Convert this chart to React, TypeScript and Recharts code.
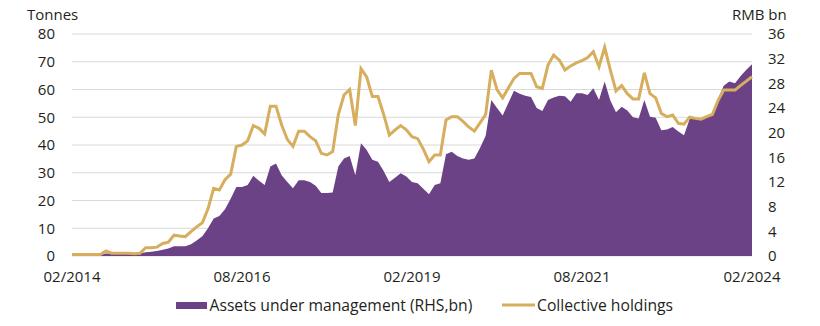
import { ComposedChart, Area, Line, XAxis, YAxis, CartesianGrid } from "recharts";

// monthly, 02/2014 .. 02/2024
const startYear = 2014;
const startMonth = 2;

// collective holdings, tonnes (LHS)
const holdings = [
  0.5, 0.5, 0.5, 0.5, 0.5, 0.5, 1.8, 1.0, 1.0, 1.0,
  1.0, 0.8, 1.0, 3.0, 3.0, 3.2, 4.5, 5.0, 7.5, 7.2,
  7.0, 8.8, 10.5, 12, 17, 24.4, 23.8, 27.5, 29.5, 39.5,
  40, 41.5, 47, 46, 44, 54, 54, 47.2, 42, 39.5,
  45, 45, 43, 41.5, 37, 36.4, 37.6, 51, 58, 60,
  47, 67.5, 64.5, 57.5, 57.5, 51, 43.6, 45.4, 47, 45.5,
  43, 42.3, 38.5, 34, 36.4, 36.4, 49, 50.2, 50.2, 48.5,
  46.5, 45, 48, 51, 67, 60, 57, 60.5, 64, 65.8,
  65.8, 65.8, 61, 60.4, 68.8, 72.4, 70.6, 67, 68.5, 69.6,
  70.4, 71.5, 73.6, 68.2, 75.2, 67, 59.5, 61.4, 58.5, 56.6,
  56.6, 66, 58.5, 57, 51.4, 50.2, 50.8, 47.8, 47.5, 50,
  49.6, 49.3, 50.2, 51, 56, 59.8, 59.8, 59.8, 61.5, 63,
  64.6,
];

// assets under management, RMB bn (RHS)
const aum = [
  0.2, 0.2, 0.2, 0.2, 0.2, 0.2, 0.4, 0.4, 0.4, 0.4,
  0.4, 0.4, 0.4, 0.6, 0.7, 0.8, 1.0, 1.2, 1.6, 1.6,
  1.6, 1.9, 2.5, 3.2, 4.5, 6.1, 6.5, 7.6, 9.3, 11.2,
  11.2, 11.5, 13, 12.2, 11.5, 14.5, 15, 13.1, 12, 11,
  12.3, 12.3, 12, 11.4, 10.2, 10.2, 10.3, 14.5, 15.8, 16.2,
  13.1, 18.3, 17.2, 15.6, 15.3, 13.8, 12, 12.7, 13.4, 12.9,
  12, 11.8, 10.9, 10, 11.5, 11.8, 16.5, 16.9, 16.2, 15.8,
  15.6, 15.8, 17.5, 19.5, 25.3, 24, 22.8, 24.8, 26.8, 26.3,
  26, 25.8, 24, 23.5, 25.3, 25.7, 26, 25.9, 25, 26.4,
  26.4, 26.1, 27.2, 25.3, 28.3, 25.2, 23.3, 24.2, 23.6, 22.5,
  22.3, 25.3, 22.6, 22.4, 20.4, 20.5, 20.9, 20.2, 19.6, 22.2,
  22.3, 22.2, 22.5, 23, 25.5, 27.6, 28.3, 28, 29.2, 30.2,
  31.1,
];

const leftTicks = [0, 10, 20, 30, 40, 50, 60, 70, 80];
const rightTicks = [0, 4, 8, 12, 16, 20, 24, 28, 32, 36];

const months = holdings.map((_, i) => {
  const t = startMonth - 1 + i;
  const m = (t % 12) + 1;
  const y = startYear + Math.floor(t / 12);
  return `${String(m).padStart(2, "0")}/${y}`;
});

const data = months.map((month, i) => ({
  month,
  holdings: holdings[i],
  aum: aum[i],
}));

const PURPLE = "#6c4287";
const GOLD = "#d6ae5e";
const TEXT = "#231f20";
const FONT = "'Open Sans', 'Noto Sans', sans-serif";

const tickStyle = { fill: TEXT, fontSize: 15, fontFamily: FONT };

export default function App() {
  return (
    <div style={{ position: "absolute", left: 0, top: 0, width: 820, height: 326 }}>
      <ComposedChart
        width={820}
        height={326}
        data={data}
        margin={{ top: 34, right: 0, bottom: 40, left: 0 }}
      >
        <CartesianGrid yAxisId="left" vertical={false} stroke="#d9d9d9" />
        <XAxis
          dataKey="month"
          scale="point"
          interval={29}
          height={30}
          tickLine={false}
          axisLine={false}
          tickMargin={9}
          tick={tickStyle}
        />
        <YAxis
          yAxisId="left"
          domain={[0, 80]}
          ticks={leftTicks}
          width={72}
          tickLine={false}
          axisLine={false}
          tickMargin={11}
          tick={tickStyle}
        />
        <YAxis
          yAxisId="right"
          orientation="right"
          domain={[0, 36]}
          ticks={rightTicks}
          width={68}
          tickLine={false}
          axisLine={false}
          tickMargin={10}
          tick={{ ...tickStyle, textAnchor: "start" }}
        />
        <Area
          yAxisId="right"
          type="linear"
          dataKey="aum"
          fill={PURPLE}
          fillOpacity={1}
          stroke="none"
          isAnimationActive={false}
        />
        <Line
          yAxisId="left"
          type="linear"
          dataKey="holdings"
          stroke={GOLD}
          strokeWidth={3}
          dot={false}
          isAnimationActive={false}
        />
      </ComposedChart>
      <svg
        width={820}
        height={326}
        style={{ position: "absolute", left: 0, top: 0, pointerEvents: "none" }}
      >
        <g fontFamily={FONT} fill={TEXT}>
          <text x={27} y={19.5} fontSize={15}>Tonnes</text>
          <text x={732} y={19.5} fontSize={15}>RMB bn</text>
          <rect x={176} y={302} width={31} height={7} fill={PURPLE} />
          <text x={209.5} y={310.5} fontSize={15.7}>Assets under management (RHS,bn)</text>
          <line x1={502} x2={535} y1={305} y2={305} stroke={GOLD} strokeWidth={3} />
          <text x={537} y={310.5} fontSize={15.7}>Collective holdings</text>
        </g>
      </svg>
    </div>
  );
}
